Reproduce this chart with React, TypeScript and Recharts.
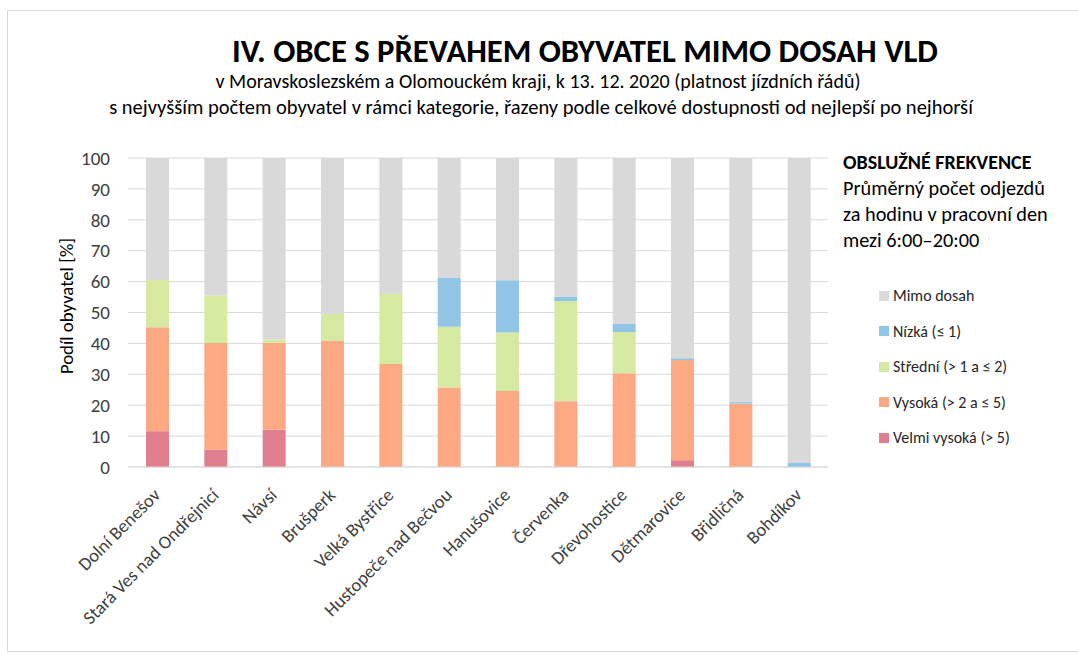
import { BarChart, Bar, XAxis, YAxis, CartesianGrid, Legend } from 'recharts';

const obce = [
  'Dolní Benešov',
  'Stará Ves nad Ondřejnicí',
  'Návsí',
  'Brušperk',
  'Velká Bystřice',
  'Hustopeče nad Bečvou',
  'Hanušovice',
  'Červenka',
  'Dřevohostice',
  'Dětmarovice',
  'Břidličná',
  'Bohdíkov',
];

// podíly obyvatel [%] podle obslužné frekvence
const velmiVysoka = [11.6, 5.6, 12.1, 0, 0, 0, 0, 0, 0, 2.2, 0, 0];
const vysoka = [33.6, 34.5, 28.0, 40.9, 33.3, 25.7, 24.6, 21.3, 30.3, 32.4, 20.5, 0];
const stredni = [15.3, 15.4, 1.2, 8.6, 22.7, 19.7, 18.9, 32.4, 13.4, 0, 0, 0];
const nizka = [0, 0, 0, 0, 0, 15.8, 16.9, 1.4, 2.6, 0.6, 0.5, 1.3];
const mimoDosah = [39.5, 44.5, 58.7, 50.5, 44.0, 38.8, 39.6, 44.9, 53.7, 64.8, 79.0, 98.7];

const yTicks = [0, 10, 20, 30, 40, 50, 60, 70, 80, 90, 100];

const series = [
  { key: 'velmi', name: 'Velmi vysoká (> 5)', color: '#e27f8e', values: velmiVysoka },
  { key: 'vysoka', name: 'Vysoká (> 2 a ≤ 5)', color: '#fba883', values: vysoka },
  { key: 'stredni', name: 'Střední (> 1 a ≤ 2)', color: '#d5e9a0', values: stredni },
  { key: 'nizka', name: 'Nízká (≤ 1)', color: '#91c5e6', values: nizka },
  { key: 'mimo', name: 'Mimo dosah', color: '#d9d9d9', values: mimoDosah },
];

const data = obce.map((obec, i) => {
  const row: Record<string, string | number> = { obec };
  series.forEach((s) => (row[s.key] = s.values[i]));
  return row;
});

const FONT = 'Carlito, Lato, sans-serif';

const XTick = ({ x, y, payload }: any) => (
  <text
    x={x - 6}
    y={y + 11}
    transform={`rotate(-45, ${x - 6}, ${y + 11})`}
    textAnchor="end"
    dominantBaseline="hanging"
    fontSize={18.5}
    fontFamily={FONT}
    fill="#404040"
  >
    {payload.value}
  </text>
);

const YLabel = () => (
  <text
    x={66}
    y={306}
    transform="rotate(-90, 66, 306)"
    textAnchor="middle"
    dominantBaseline="central"
    fontSize={18.8}
    fontFamily={FONT}
    fill="#000"
  >
    Podíl obyvatel [%]
  </text>
);

// legenda: pořadí shora Mimo dosah → Velmi vysoká
const LegendBox = () => (
  <div style={{ fontFamily: FONT, fontSize: 16, color: '#262626' }}>
    {[...series].reverse().map((s) => (
      <div key={s.key} style={{ display: 'flex', alignItems: 'center', height: 35.5 }}>
        <span style={{ width: 10, height: 10, background: s.color, display: 'inline-block', marginRight: 4 }} />
        {s.name}
      </div>
    ))}
  </div>
);

export default function App() {
  return (
    <div
      style={{
        position: 'absolute',
        left: 0,
        top: 0,
        width: 1078,
        height: 655,
        background: '#fff',
        overflow: 'hidden',
        fontFamily: FONT,
      }}
    >
      <div
        style={{
          position: 'absolute',
          left: 7,
          top: 10,
          width: 1100,
          height: 640,
          border: '1px solid #d9d9d9',
        }}
      />
      <svg width={1078} height={655} style={{ position: 'absolute', left: 0, top: 0 }}>
        <text x={585} y={62} textAnchor="middle" fontSize={32.7} fontWeight={700} fontFamily={FONT} fill="#000">
          IV. OBCE S PŘEVAHEM OBYVATEL MIMO DOSAH VLD
        </text>
        <text x={538} y={88} textAnchor="middle" fontSize={20} fontFamily={FONT} fill="#000">
          v Moravskoslezském a Olomouckém kraji, k 13. 12. 2020 (platnost jízdních řádů)
        </text>
        <text x={541} y={114} textAnchor="middle" fontSize={20.5} fontFamily={FONT} fill="#000">
          s nejvyšším počtem obyvatel v rámci kategorie, řazeny podle celkové dostupnosti od nejlepší po nejhorší
        </text>
        <text x={843} y={169} fontSize={20} fontWeight={700} fontFamily={FONT} fill="#000">
          OBSLUŽNÉ FREKVENCE
        </text>
        <text x={843} y={195} fontSize={20.3} fontFamily={FONT} fill="#000">
          Průměrný počet odjezdů
        </text>
        <text x={843} y={221} fontSize={20.3} fontFamily={FONT} fill="#000">
          za hodinu v pracovní den
        </text>
        <text x={843} y={247} fontSize={20.3} fontFamily={FONT} fill="#000">
          mezi 6:00–20:00
        </text>
      </svg>
      <div style={{ position: 'absolute', left: 0, top: 0 }}>
        <BarChart
          width={1078}
          height={655}
          data={data}
          margin={{ top: 158, right: 250, bottom: 38, left: 0 }}
          barSize={23}
        >
          <CartesianGrid vertical={false} stroke="#d9d9d9" strokeWidth={1} />
          <XAxis
            dataKey="obec"
            interval={0}
            height={150}
            tick={<XTick />}
            tickLine={false}
            axisLine={{ stroke: '#d9d9d9' }}
          />
          <YAxis
            width={128}
            domain={[0, 100]}
            ticks={yTicks}
            interval={0}
            tickLine={false}
            axisLine={false}
            tickMargin={12}
            tick={{ fontSize: 19, fill: '#404040', fontFamily: FONT }}
            label={{ content: () => <YLabel /> }}
          />
          <Legend
            layout="vertical"
            align="center"
            verticalAlign="middle"
            content={<LegendBox />}
            wrapperStyle={{ left: 879, top: 278, width: 190, bottom: 'auto', right: 'auto' }}
          />
          {series.map((s) => (
            <Bar key={s.key} dataKey={s.key} name={s.name} stackId="a" fill={s.color} isAnimationActive={false} />
          ))}
        </BarChart>
      </div>
    </div>
  );
}
